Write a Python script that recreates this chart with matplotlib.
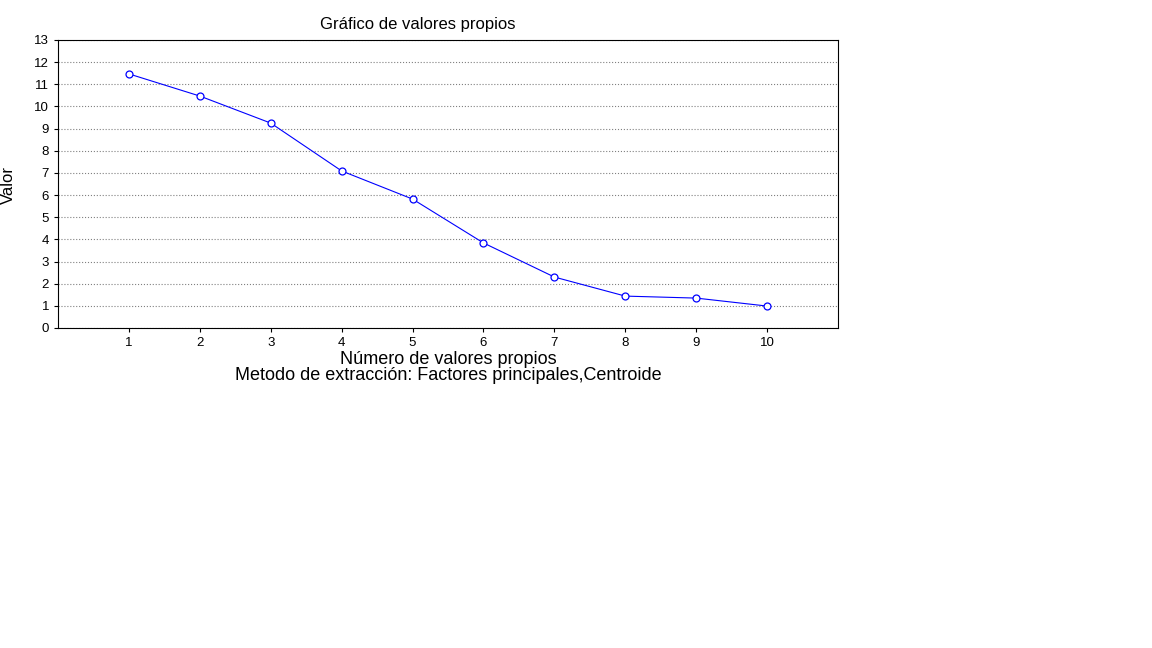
import matplotlib
matplotlib.use("Agg")
import matplotlib.pyplot as plt

factors = [1, 2, 3, 4, 5, 6, 7, 8, 9, 10]
eigenvalues = [11.47, 10.47, 9.25, 7.09, 5.82, 3.84, 2.30, 1.44, 1.35, 0.99]
yticks = list(range(0, 14))

plt.rcParams['font.family'] = ['Liberation Sans', 'DejaVu Sans']
fig = plt.figure(figsize=(11.52, 6.48), dpi=100)
ax = fig.add_axes([58/1152, 1-328/648, 780/1152, 288/648])
ax.plot(factors, eigenvalues, color='blue', lw=0.8, marker='o', ms=5,
        mfc='white', mec='blue', mew=0.9)
ax.set_xlim(0, 11)
ax.set_ylim(0, 13)
ax.set_xticks(factors)
ax.set_yticks(yticks)
ax.tick_params(labelsize=9.5, length=3, direction='out')
ax.yaxis.grid(True, linestyle=':', color='gray', lw=0.8)
for s in ax.spines.values():
    s.set_linewidth(0.8)
fig.text(418/1152, 1-25/648, 'Gráfico de valores propios', ha='center', va='center', fontsize=12, stretch='expanded')
ax.title.set_visible(False)
fig.text(448/1152, 1-360/648, 'Número de valores propios', ha='center', va='center', fontsize=13)
fig.text(448/1152, 1-376/648, 'Metodo de extracción: Factores principales,Centroide', ha='center', va='center', fontsize=13)
fig.text(8/1152, 1-185/648, 'Valor', rotation=90, ha='center', va='center', fontsize=12)
for t in fig.texts[:3]:
    pass
fig.savefig('out.png', dpi=100)

# widen text to match reference spacing
